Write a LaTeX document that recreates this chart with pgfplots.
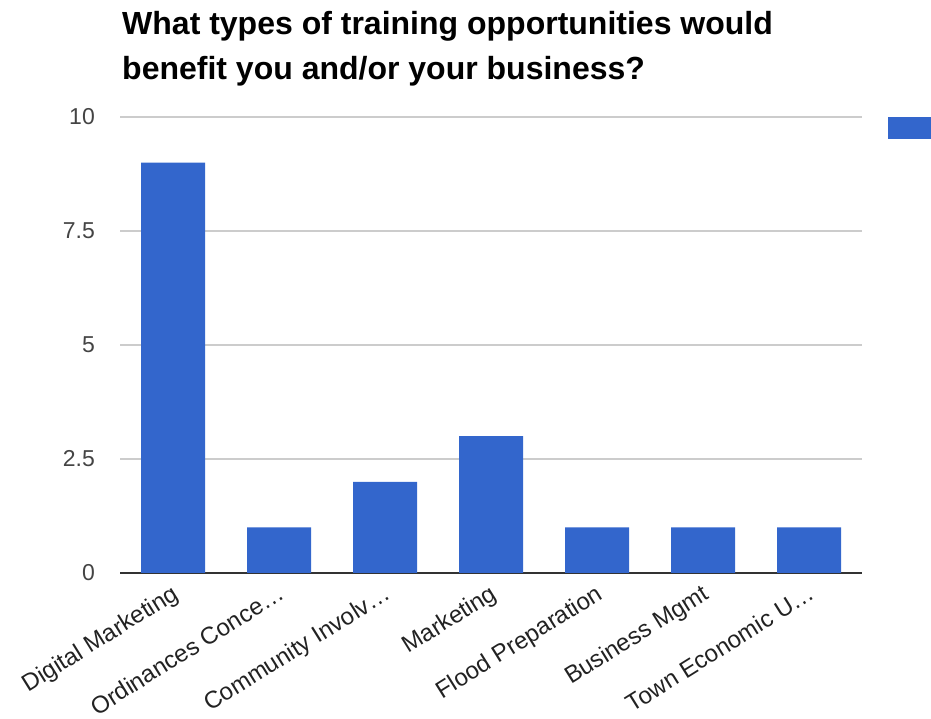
\documentclass[border=0pt]{standalone}
\usepackage{pgfplots}
\pgfplotsset{compat=1.18}
\usepackage{fontspec}
\setmainfont{Liberation Sans}
\definecolor{barblue}{HTML}{3366CC}
\definecolor{gridgray}{HTML}{CCCCCC}
\definecolor{basegray}{HTML}{333333}
\definecolor{labgray}{HTML}{444444}
\definecolor{xlab}{HTML}{222222}
\begin{document}
\begin{tikzpicture}[x=1pt,y=1pt]
\useasboundingbox (0,0) rectangle (931,719);
\node[anchor=base west, inner sep=0pt, font=\bfseries\fontsize{32}{32}\selectfont] at (122,684) {What types of training opportunities would};
\node[anchor=base west, inner sep=0pt, font=\bfseries\fontsize{32}{32}\selectfont] at (122,639) {benefit you and/or your business?};
\begin{axis}[
  at={(120pt,146pt)}, anchor=south west,
  scale only axis, width=742pt, height=456pt,
  xmin=-0.5, xmax=6.5, ymin=0, ymax=10,
  axis line style={draw=none},
  major tick length=0pt,
  ytick={2.5,5,7.5,10},
  yticklabels={2.5,5,7.5,10},
  extra y ticks={0},
  extra y tick labels={0},
  extra y tick style={grid style={color=basegray, line width=2pt}},
  ymajorgrids,
  grid style={color=gridgray, line width=1.3pt},
  yticklabel style={anchor=east, inner sep=0pt, xshift=-25pt, font=\fontsize{23}{23}\selectfont, text=labgray},
  xtick={0,1,2,3,4,5,6},
  xticklabels={Digital Marketing, Ordinances Conce\ldots, Community Involv\ldots, Marketing, Flood Preparation, Business Mgmt, Town Economic U\ldots},
  xticklabel style={xshift=-2pt, yshift=-10pt, rotate=32, anchor=north east, inner sep=0pt, font=\fontsize{24}{24}\selectfont, text=xlab},
  legend style={at={(1.035,1)}, anchor=north west, draw=none, fill=none, inner sep=0pt, font=\fontsize{22}{22}\selectfont},
]
\addplot[ybar, bar width=64pt, fill=barblue, draw=none,
  legend image code/.code={\fill[barblue] (0pt,-6pt) rectangle (44pt,16pt);}]
  coordinates {(0,9) (1,1) (2,2) (3,3) (4,1) (5,1) (6,1)};
\addlegendentry{}
\end{axis}
\end{tikzpicture}
\end{document}
